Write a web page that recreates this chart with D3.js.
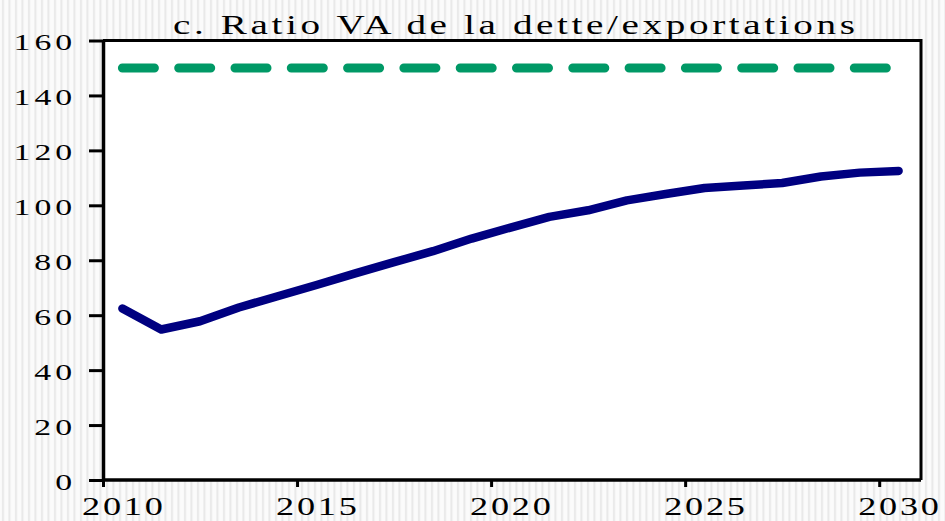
<!DOCTYPE html>
<html>
<head>
<meta charset="utf-8">
<script src="https://cdn.jsdelivr.net/npm/d3@7"></script>
<style>
  body { margin: 0; background: #fff; }
  svg { display: block; }
  text { font-family: "Liberation Serif", "Times New Roman", serif; fill: #000; }
</style>
</head>
<body>
<svg id="chart" width="945" height="521"></svg>
<script>
// data
const years = d3.range(2010, 2031);
const debtRatio = [62.4, 54.8, 57.8, 62.8, 66.9, 71.0, 75.2, 79.3, 83.3, 87.9, 91.9,
                   95.8, 98.2, 101.8, 104.1, 106.3, 107.2, 108.1, 110.5, 111.9, 112.5];
const threshold = years.map(() => 150);
const yTicks = [0, 20, 40, 60, 80, 100, 120, 140, 160];
const xTickYears = [2010, 2015, 2020, 2025, 2030];
const title = "c. Ratio VA de la dette/exportations";

const svg = d3.select("#chart");
const box = { left: 103, top: 40.5, right: 921, bottom: 480 };

//striped background
const defs = svg.append("defs");
const pat = defs.append("pattern")
    .attr("id", "stripes")
    .attr("patternUnits", "userSpaceOnUse")
    .attr("width", 6.5)
    .attr("height", 10);
pat.append("rect").attr("width", 6.5).attr("height", 10).attr("fill", "#fbfbfb");
pat.append("rect").attr("x", 2).attr("width", 2).attr("height", 10).attr("fill", "#e8e8e8");

svg.append("rect")
    .attr("width", 945)
    .attr("height", 521)
    .attr("fill", "url(#stripes)");

// plot area
svg.append("rect")
    .attr("x", box.left)
    .attr("y", box.top)
    .attr("width", box.right - box.left)
    .attr("height", box.bottom - box.top)
    .attr("fill", "#fff");

// scales: each year occupies one category slot
const x = d3.scaleLinear()
    .domain([2010, 2031])
    .range([box.left, 918]);

const y = d3.scaleLinear()
    .domain([0, 160])
    .range([box.bottom, box.top]);

// frame top/right
svg.append("path")
    .attr("d", `M${box.left},${box.top}H${box.right}V${box.bottom}`)
    .attr("fill", "none")
    .attr("stroke", "#000")
    .attr("stroke-width", 3);

//y-axis
const sy = 1.5, lsY = 2.6;
const gy = svg.append("g")
    .attr("transform", `translate(${box.left},0)`)
    .call(d3.axisLeft(y).tickValues(yTicks).tickSize(14).tickPadding(17).tickSizeOuter(0));
gy.select(".domain").attr("stroke-width", 3.5);
gy.selectAll(".tick line").attr("stroke-width", 3);
gy.selectAll(".tick text")
    .style("font-size", "22.5px")
    .style("letter-spacing", lsY + "px")
    .attr("dy", null)
    .attr("y", 9)
    .attr("x", -31 / sy + lsY)
    .attr("transform", `scale(${sy},1)`);

//x-axis tick marks on the category boundaries
const gx = svg.append("g")
    .attr("transform", `translate(0,${box.bottom})`)
    .call(d3.axisBottom(x).tickValues(xTickYears).tickSize(7).tickFormat("").tickSizeOuter(0));
gx.select(".domain").attr("stroke-width", 3.5).attr("d", `M${box.left},0H${box.right}`);
gx.selectAll(".tick line").attr("stroke-width", 3);

//x labels centred in their category
const sx = 1.45, lsX = 1.9;
const gxl = svg.append("g")
    .attr("transform", `translate(0,${box.bottom})`)
    .call(d3.axisBottom(x).tickValues(xTickYears.map(d => d + 0.5)).tickSize(0)
        .tickFormat(d => Math.floor(d)));
gxl.select(".domain").remove();
gxl.selectAll(".tick").each(function (d) {
    d3.select(this).attr("transform", null)
        .select("text")
        .style("font-size", "25px")
        .style("letter-spacing", lsX + "px")
        .attr("dy", null)
        .attr("y", 35.5)
        .attr("x", x(d) / sx + lsX / 2)
        .attr("transform", `scale(${sx},1)`);
});

// threshold (dashed green)
const line = d3.line()
    .x((d, i) => x(years[i] + 0.5))
    .y(d => y(d));

svg.append("path")
    .datum(threshold)
    .attr("d", line)
    .attr("fill", "none")
    .attr("stroke", "#009966")
    .attr("stroke-width", 9)
    .attr("stroke-linecap", "round")
    .attr("stroke-dasharray", "32,24.3");

// debt ratio (navy)
svg.append("path")
    .datum(debtRatio)
    .attr("d", line)
    .attr("fill", "none")
    .attr("stroke", "#000080")
    .attr("stroke-width", 8.5)
    .attr("stroke-linecap", "round")
    .attr("stroke-linejoin", "round");

//title
const st = 1.4;
svg.append("text")
    .attr("x", 514 / st)
    .attr("y", 34)
    .attr("transform", `scale(${st},1)`)
    .attr("text-anchor", "middle")
    .style("font-size", "28px")
    .attr("textLength", 682 / st)
    .attr("lengthAdjust", "spacing")
    .text(title);
</script>
</body>
</html>
